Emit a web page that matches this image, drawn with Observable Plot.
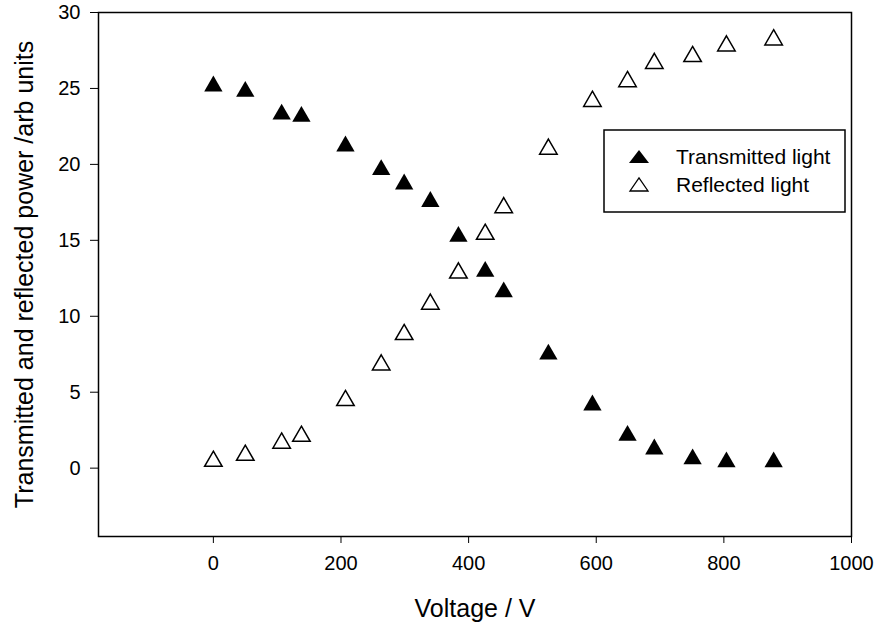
<!DOCTYPE html>
<html><head><meta charset="utf-8">
<script src="https://cdn.jsdelivr.net/npm/d3@7"></script>
<script src="https://cdn.jsdelivr.net/npm/@observablehq/plot@0.6"></script>
<style>
body{margin:0;background:#fff;font-family:"Liberation Sans",Arial,sans-serif;}
#wrap{position:relative;width:884px;height:632px;}
#legend{position:absolute;left:603px;top:129px;}
</style></head>
<body><div id="wrap"></div>
<script>
const voltage = [0, 50, 107, 138, 207, 263, 299, 340, 384, 426, 455, 525, 594, 649, 691, 751, 804, 878];
const transmitted = [25.15, 24.8, 23.3, 23.15, 21.2, 19.65, 18.7, 17.55, 15.25, 12.95, 11.6, 7.5, 4.15, 2.15, 1.25, 0.6, 0.4, 0.4];
const reflected = [0.45, 0.85, 1.65, 2.1, 4.45, 6.8, 8.8, 10.8, 12.85, 15.4, 17.15, 21.0, 24.15, 25.45, 26.65, 27.1, 27.8, 28.2];
const xTicks = [0, 200, 400, 600, 800, 1000];
const yTicks = [0, 5, 10, 15, 20, 25, 30];
const xLabel = "Voltage / V";
const yLabel = "Transmitted and reflected power /arb units";
const seriesNames = ["Transmitted light", "Reflected light"];

const rows = voltage.map((v, i) => ({v, t: transmitted[i], r: reflected[i]}));

const chart = Plot.plot({
  width: 884, height: 632,
  marginLeft: 98, marginRight: 33, marginTop: 12, marginBottom: 96,
  style: {fontFamily: "'Liberation Sans', Arial, sans-serif", fontSize: "20px", color: "#000", background: "#fff", overflow: "visible"},
  x: {domain: [-180, 1000]},
  y: {domain: [-4.5, 30]},
  marks: [
    Plot.frame({stroke: "#000", strokeWidth: 1.5}),
    Plot.axisX({ticks: xTicks, tickSize: 7, tickPadding: 12, label: null, fontSize: 20, tickFormat: d => String(d)}),
    Plot.axisY({ticks: yTicks, tickSize: 8, tickPadding: 10, label: null, fontSize: 20, tickFormat: d => String(d)}),
    Plot.text([xLabel], {frameAnchor: "bottom", dy: 72, fontSize: 25, textAnchor: "middle", lineAnchor: "middle", text: d => d}),
    Plot.text([yLabel], {frameAnchor: "left", rotate: -90, dx: -74, fontSize: 25, textAnchor: "middle", lineAnchor: "middle", text: d => d}),
    Plot.dot(rows, {x: "v", y: "t", symbol: "triangle", r: 6.8, fill: "#000", stroke: "none"}),
    Plot.dot(rows, {x: "v", y: "r", symbol: "triangle", r: 6.5, fill: "#fff", stroke: "#000", strokeWidth: 1.5})
  ]
});
const wrap = document.getElementById("wrap");
wrap.appendChild(chart);

const ns = "http://www.w3.org/2000/svg";
const leg = document.createElementNS(ns, "svg");
leg.setAttribute("id", "legend");
leg.setAttribute("width", 244);
leg.setAttribute("height", 85);
leg.innerHTML = `<rect x="1" y="1" width="241" height="82" fill="#fff" stroke="#000" stroke-width="1.5"/>
<path d="M26,34 L46,34 L36,21 Z" fill="#000"/>
<path d="M27,62 L45,62 L36,49 Z" fill="#fff" stroke="#000" stroke-width="1.3"/>
<text x="73" y="35" font-size="21" font-family="'Liberation Sans', Arial, sans-serif">${seriesNames[0]}</text>
<text x="73" y="63" font-size="21" font-family="'Liberation Sans', Arial, sans-serif">${seriesNames[1]}</text>`;
wrap.appendChild(leg);
</script>
</body></html>
